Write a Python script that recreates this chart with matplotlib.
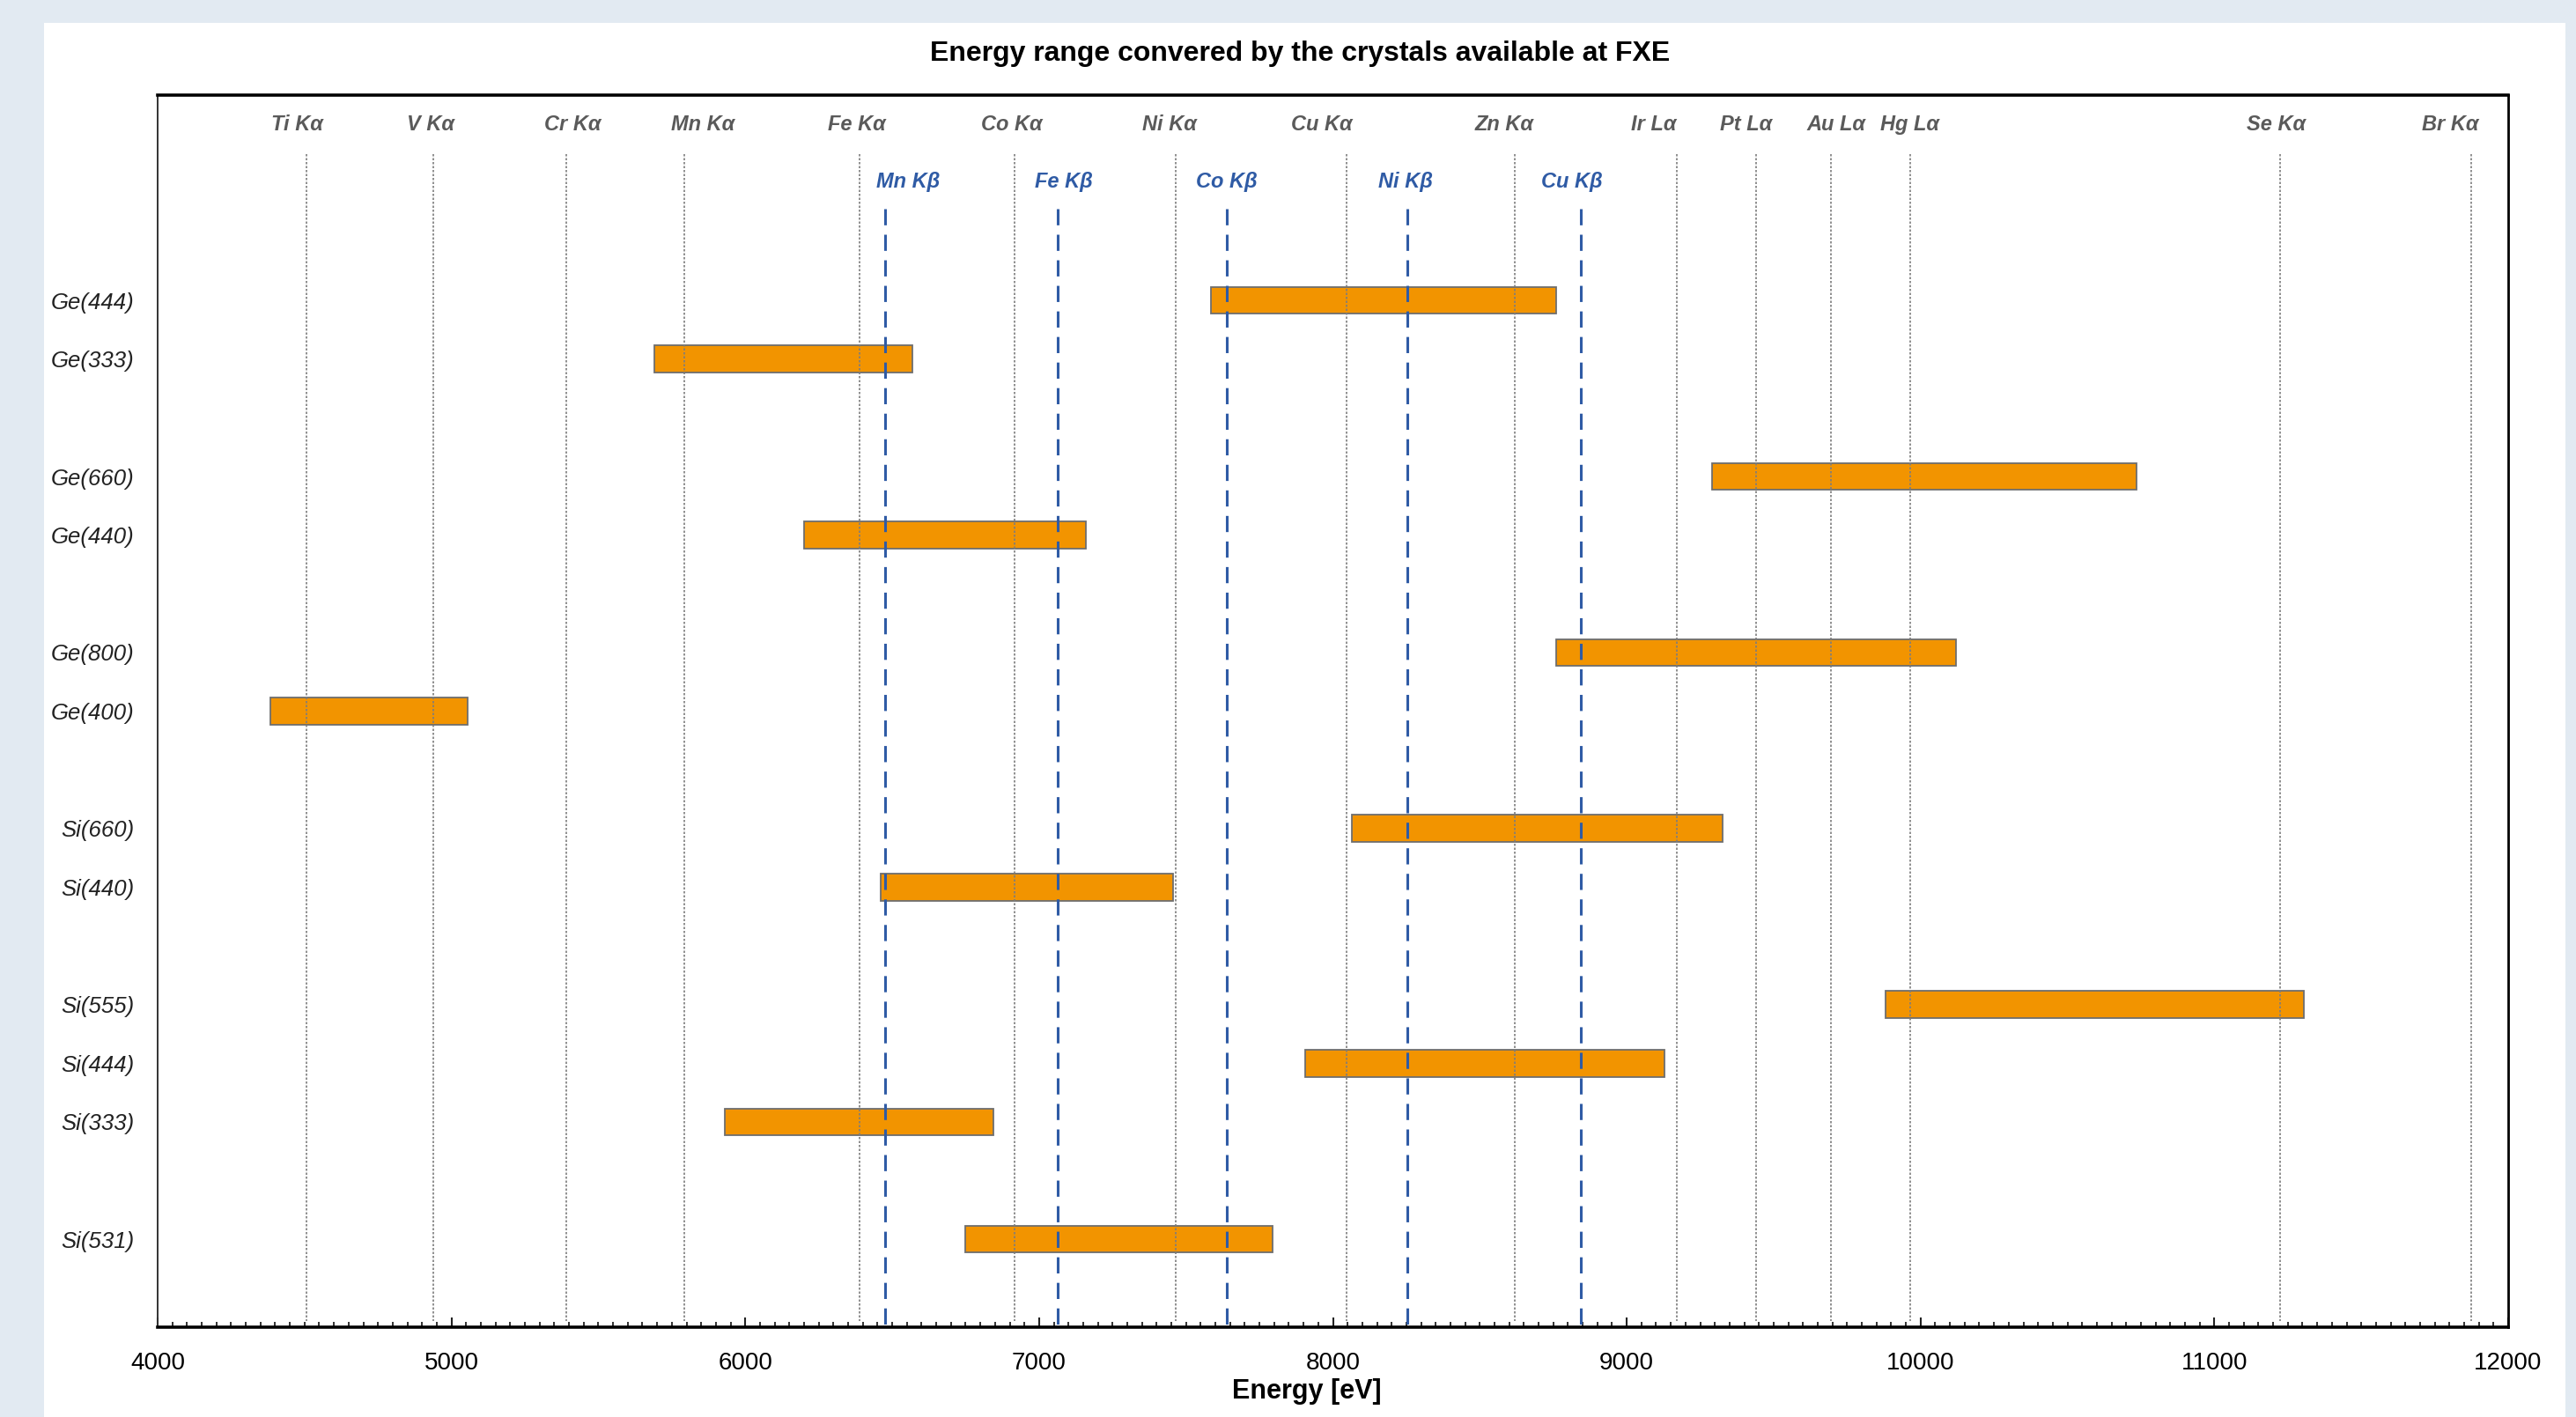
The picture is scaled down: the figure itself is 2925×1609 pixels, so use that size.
import matplotlib
matplotlib.use('Agg')
import matplotlib.pyplot as plt
from matplotlib.patches import Rectangle
from matplotlib.ticker import MultipleLocator

plt.rcParams['font.family'] = ['Liberation Sans', 'DejaVu Sans']

# crystals and the energy range each one covers (eV)
crystals = ['Ge(444)', 'Ge(333)', 'Ge(660)', 'Ge(440)', 'Ge(800)', 'Ge(400)',
            'Si(660)', 'Si(440)', 'Si(555)', 'Si(444)', 'Si(333)', 'Si(531)']
crystal_row = [0, 1, 3, 4, 6, 7, 9, 10, 12, 13, 14, 16]
e_min = [7585, 5690, 9290, 6200, 8760, 4385, 8065, 6460, 9880, 7905, 5930, 6750]
e_max = [8760, 6570, 10735, 7160, 10120, 5055, 9325, 7455, 11305, 9130, 6845, 7795]

# emission lines (K alpha / L alpha), gray
ka_names = ['Ti Kα', 'V Kα', 'Cr Kα', 'Mn Kα', 'Fe Kα', 'Co Kα', 'Ni Kα', 'Cu Kα',
            'Zn Kα', 'Ir Lα', 'Pt Lα', 'Au Lα', 'Hg Lα', 'Se Kα', 'Br Kα']
ka_energy = [4508, 4937, 5390, 5793, 6390, 6917, 7466, 8045, 8620, 9171, 9439, 9696, 9966, 11225, 11875]
ka_label_x = [4475, 4928, 5414, 5856, 6381, 6906, 7443, 7963, 8584, 9092, 9405, 9713, 9964, 11211, 11803]

# K beta lines, blue
kb_names = ['Mn Kβ', 'Fe Kβ', 'Co Kβ', 'Ni Kβ', 'Cu Kβ']
kb_energy = [6475, 7063, 7639, 8254, 8843]
kb_label_x = [6554, 7085, 7639, 8248, 8813]

W, H = 2925, 1609
fig = plt.figure(figsize=(W / 100, H / 100), dpi=100, facecolor='#e2eaf2')
fig.patches.append(Rectangle((50 / W, 0), (2913 - 50) / W, 1 - 26 / H,
                             transform=fig.transFigure, facecolor='white',
                             edgecolor='none', zorder=-10))

ax = fig.add_axes([179 / W, 1 - 1507 / H, (2848 - 179) / W, (1507 - 108) / H])
ax.set_facecolor('white')

ax.barh(crystal_row, [b - a for a, b in zip(e_min, e_max)], left=e_min, height=0.46,
        color='#f29400', edgecolor='#6e6e6e', linewidth=1.3, zorder=1)

ax.vlines(ka_energy, -2.5, 17.4, colors='#7d7d7d', linestyles=(0, (1.5, 1.2)),
          linewidth=1.2, zorder=2)
ax.vlines(kb_energy, -1.57, 17.5, colors='#2f5ba5', linestyles=(0, (6, 3.5)),
          linewidth=2.2, zorder=3)

for name, x in zip(ka_names, ka_label_x):
    ax.text(x, -3.0, name, ha='center', va='center', fontsize=17, style='italic',
            fontweight='bold', color='#5a5a5a')
for name, x in zip(kb_names, kb_label_x):
    ax.text(x, -2.02, name, ha='center', va='center', fontsize=17, style='italic',
            fontweight='bold', color='#2f5ba5')

ax.set_xlim(4000, 12000)
ax.set_ylim(17.5, -3.5)
ax.set_yticks(crystal_row)
ax.set_yticklabels(crystals, fontsize=18.5, style='italic', color='#222222')
ax.tick_params(axis='y', length=0, pad=19)

ax.xaxis.set_major_locator(MultipleLocator(1000))
ax.xaxis.set_minor_locator(MultipleLocator(50))
ax.tick_params(axis='x', which='major', direction='in', length=8, width=1.5,
               labelsize=20, pad=20, color='#222222')
ax.tick_params(axis='x', which='minor', direction='in', length=4.5, width=1.3,
               color='#222222')

ax.spines['top'].set_linewidth(2.6)
ax.spines['bottom'].set_linewidth(2.6)
ax.spines['right'].set_linewidth(2.0)
ax.spines['left'].set_linewidth(1.4)
ax.spines['left'].set_color('#333333')

fig.text(1476 / W, 1 - 61 / H, 'Energy range convered by the crystals available at FXE',
         ha='center', va='center', fontsize=23, fontweight='bold')
fig.text(1484 / W, 1 - 1580 / H, 'Energy [eV]', ha='center', va='center',
         fontsize=22, fontweight='bold')

fig.savefig('out.png', dpi=100, facecolor=fig.get_facecolor())
